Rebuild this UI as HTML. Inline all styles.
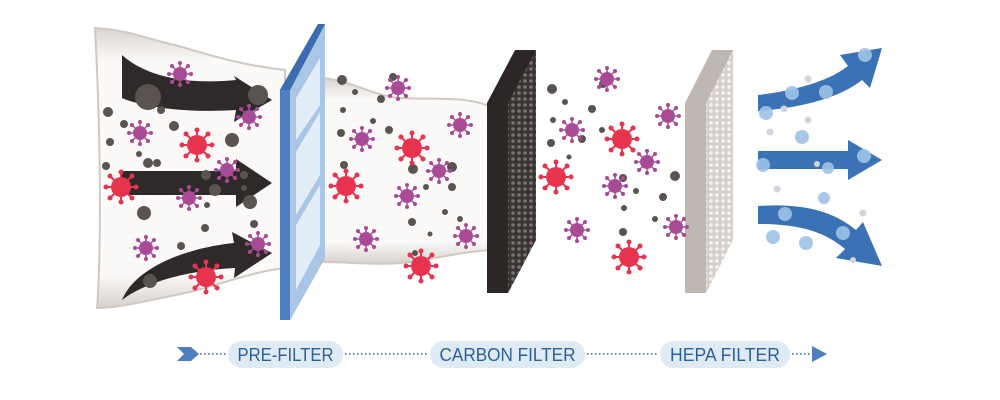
<!DOCTYPE html>
<html><head><meta charset="utf-8"><style>
html,body{margin:0;padding:0;background:#fff;width:1000px;height:400px;overflow:hidden}
svg{display:block}
</style></head><body>
<svg width="1000" height="400" viewBox="0 0 1000 400" xmlns="http://www.w3.org/2000/svg">
<defs>
<g id="vr">
 <circle r="10" fill="#e8334f"/>
 <g stroke="#e8334f" stroke-width="2">
  <line x1="0" y1="-10" x2="0" y2="-15"/><line x1="0" y1="10" x2="0" y2="15"/>
  <line x1="-10" y1="0" x2="-15" y2="0"/><line x1="10" y1="0" x2="15" y2="0"/>
  <line x1="7" y1="7" x2="11" y2="11"/><line x1="-7" y1="-7" x2="-11" y2="-11"/>
  <line x1="7" y1="-7" x2="11" y2="-11"/><line x1="-7" y1="7" x2="-11" y2="11"/>
 </g>
 <g fill="#e8334f"><circle cx="0" cy="-15" r="2.5"/><circle cx="0" cy="15" r="2.5"/><circle cx="-15" cy="0" r="2.5"/><circle cx="15" cy="0" r="2.5"/><circle cx="11" cy="11" r="2.5"/><circle cx="-11" cy="-11" r="2.5"/><circle cx="11" cy="-11" r="2.5"/><circle cx="-11" cy="11" r="2.5"/></g>
</g>
<g id="vp">
 <circle r="7" fill="#a94a97"/>
 <g stroke="#a94a97" stroke-width="1.5">
  <line x1="0" y1="-7" x2="0" y2="-11"/><line x1="0" y1="7" x2="0" y2="11"/>
  <line x1="-7" y1="0" x2="-11" y2="0"/><line x1="7" y1="0" x2="11" y2="0"/>
  <line x1="5" y1="5" x2="8" y2="8"/><line x1="-5" y1="-5" x2="-8" y2="-8"/>
  <line x1="5" y1="-5" x2="8" y2="-8"/><line x1="-5" y1="5" x2="-8" y2="8"/>
 </g>
 <g fill="#a94a97"><circle cx="0" cy="-11" r="2"/><circle cx="0" cy="11" r="2"/><circle cx="-11" cy="0" r="2"/><circle cx="11" cy="0" r="2"/><circle cx="8" cy="8" r="2"/><circle cx="-8" cy="-8" r="2"/><circle cx="8" cy="-8" r="2"/><circle cx="-8" cy="8" r="2"/></g>
</g>
<pattern id="dk" width="6" height="6" patternUnits="userSpaceOnUse"><rect width="6" height="6" fill="#3a3433"/><circle cx="3" cy="3" r="1.8" fill="#7a7474"/></pattern>
<pattern id="lt" width="6" height="6" patternUnits="userSpaceOnUse"><rect width="6" height="6" fill="#d6d0cc"/><circle cx="3" cy="3" r="1.8" fill="#f6f3f1"/></pattern>
<linearGradient id="tube" x1="0" y1="0" x2="0" y2="1"><stop offset="0" stop-color="#d9d4cf"/><stop offset="0.12" stop-color="#fbfaf9"/><stop offset="0.88" stop-color="#fbfaf9"/><stop offset="1" stop-color="#d6d0cb"/></linearGradient>
</defs>

<path d="M95,28 C130,30 150,40 175,45 C210,55 240,65 285,70 L285,268 C250,272 220,285 190,292 C150,300 120,308 97,308 C102,240 100,120 95,28Z" fill="url(#tube)" stroke="#cfc9c4" stroke-width="2"/>
<path d="M322,78 C350,80 370,95 400,98 C440,100 470,95 498,110 L498,250 C470,250 440,258 410,262 C380,266 350,262 322,262Z" fill="url(#tube)" stroke="#cfc9c4" stroke-width="2"/>

<g fill="#2f2a2a">
 <path d="M122,55 C150,80 195,84 236,80 L234,76 L272,100 L234,122 L236,110 C190,113 145,108 122,98Z"/>
 <path d="M122,171 L236,171 L236,159 L272,183 L236,207 L236,195 L122,195Z"/>
 <path d="M122,300 C135,268 185,248 234,243 L232,232 L272,253 L234,278 L235,268 C190,270 145,282 122,300Z"/>
</g>

<polygon points="280,90 318,24 325,24 325,258 290,320 280,320" fill="#4d7fc0"/>
<polygon points="290,90 325,24 325,258 290,320" fill="#a9c6e6"/>
<polygon points="280,90 290,90 325,24 318,24" fill="#3a6cae"/>
<polygon points="296,98 320,58 320,105 296,140" fill="#e3edf7"/>
<polygon points="296,152 320,112 320,175 296,215" fill="#e3edf7"/>
<polygon points="296,225 320,185 320,245 296,290" fill="#e3edf7"/>

<polygon points="487,103 515,50 536,50 536,240 508,293 487,293" fill="#2c2626"/>
<polygon points="508,103 536,50 536,240 508,293" fill="url(#dk)"/>

<polygon points="685,103 712,50 733,50 733,240 706,293 685,293" fill="#bfb7b2"/>
<polygon points="706,103 733,50 733,240 706,293" fill="url(#lt)"/>

<g fill="#3a72b5">
 <path d="M758,95 C800,90 830,80 848,66 L840,55 L882,48 L870,88 L862,80 C840,98 800,108 758,111Z"/>
 <path d="M758,151 L848,151 L848,140 L882,160 L848,180 L848,169 L758,169Z"/>
 <path d="M758,206 C800,203 832,210 856,230 L863,222 L882,266 L836,258 L845,249 C825,232 800,224 758,224Z"/>
</g>
<g fill="#9ec3e6" opacity="0.9">
 <circle cx="865" cy="55" r="7"/><circle cx="792" cy="93" r="7"/><circle cx="826" cy="92" r="7"/><circle cx="766" cy="113" r="7"/><circle cx="802" cy="137" r="7"/><circle cx="763" cy="165" r="7"/><circle cx="828" cy="168" r="6"/><circle cx="864" cy="156" r="7"/><circle cx="824" cy="198" r="6"/><circle cx="785" cy="214" r="7"/><circle cx="773" cy="237" r="7"/><circle cx="806" cy="243" r="7"/><circle cx="843" cy="233" r="7"/>
</g>
<g fill="#d0d6dc"><circle cx="808" cy="79" r="3.5"/><circle cx="784" cy="109" r="3.5"/><circle cx="808" cy="120" r="3.5"/><circle cx="770" cy="132" r="3.5"/><circle cx="817" cy="164" r="3"/><circle cx="777" cy="189" r="3.5"/><circle cx="863" cy="213" r="3.5"/><circle cx="853" cy="260" r="3"/></g>

<g fill="#5a5352">
 <circle cx="148" cy="97" r="13"/><circle cx="258" cy="95" r="10"/><circle cx="108" cy="112" r="5"/><circle cx="161" cy="110" r="4"/><circle cx="124" cy="124" r="4"/><circle cx="174" cy="126" r="5"/><circle cx="232" cy="140" r="7"/><circle cx="110" cy="142" r="4"/><circle cx="139" cy="154" r="3"/><circle cx="148" cy="163" r="5"/><circle cx="157" cy="163" r="4"/><circle cx="106" cy="166" r="4"/><circle cx="206" cy="175" r="5"/><circle cx="215" cy="190" r="6"/><circle cx="250" cy="202" r="7"/><circle cx="244" cy="175" r="4"/><circle cx="244" cy="188" r="3"/><circle cx="207" cy="205" r="3"/><circle cx="144" cy="213" r="7"/><circle cx="254" cy="224" r="4"/><circle cx="205" cy="228" r="4"/><circle cx="181" cy="246" r="4"/><circle cx="150" cy="281" r="7"/>
 <circle cx="342" cy="80" r="5"/><circle cx="393" cy="77" r="4"/><circle cx="355" cy="92" r="3"/><circle cx="381" cy="99" r="4"/><circle cx="343" cy="110" r="3"/><circle cx="373" cy="121" r="3"/><circle cx="389" cy="130" r="4"/><circle cx="341" cy="133" r="4"/><circle cx="344" cy="165" r="4"/><circle cx="413" cy="169" r="5"/><circle cx="426" cy="187" r="3"/><circle cx="452" cy="167" r="5"/><circle cx="452" cy="187" r="4"/><circle cx="445" cy="212" r="3"/><circle cx="412" cy="222" r="4"/><circle cx="430" cy="234" r="2.5"/><circle cx="460" cy="219" r="3"/><circle cx="415" cy="253" r="3"/>
 <circle cx="552" cy="89" r="5"/><circle cx="565" cy="102" r="3"/><circle cx="592" cy="109" r="4"/><circle cx="553" cy="120" r="3"/><circle cx="602" cy="130" r="3"/><circle cx="582" cy="139" r="4"/><circle cx="551" cy="143" r="4"/><circle cx="569" cy="157" r="2.5"/><circle cx="623" cy="178" r="4"/><circle cx="675" cy="176" r="5"/><circle cx="636" cy="191" r="3"/><circle cx="663" cy="197" r="4"/><circle cx="624" cy="208" r="3"/><circle cx="655" cy="219" r="3"/><circle cx="623" cy="232" r="4"/><circle cx="603" cy="84" r="4"/>
</g>

<use href="#vp" x="180" y="74"/><use href="#vp" x="249" y="117"/><use href="#vp" x="140" y="133"/><use href="#vr" x="197" y="145"/><use href="#vp" x="227" y="170"/><use href="#vr" x="121" y="187"/><use href="#vp" x="189" y="198"/><use href="#vp" x="146" y="248"/><use href="#vr" x="206" y="277"/><use href="#vp" x="258" y="244"/>
<use href="#vp" x="398" y="88"/><use href="#vp" x="460" y="125"/><use href="#vp" x="362" y="139"/><use href="#vr" x="412" y="148"/><use href="#vp" x="439" y="171"/><use href="#vr" x="346" y="186"/><use href="#vp" x="407" y="196"/><use href="#vp" x="366" y="239"/><use href="#vp" x="466" y="236"/><use href="#vr" x="421" y="266"/>
<use href="#vp" x="607" y="79"/><use href="#vp" x="572" y="130"/><use href="#vr" x="622" y="139"/><use href="#vp" x="647" y="162"/><use href="#vp" x="668" y="116"/><use href="#vr" x="556" y="177"/><use href="#vp" x="615" y="186"/><use href="#vp" x="577" y="230"/><use href="#vp" x="676" y="227"/><use href="#vr" x="629" y="257"/>

<g stroke="#5b86bf" stroke-width="2" stroke-dasharray="1.5 2.5">
 <line x1="200" y1="354" x2="226" y2="354"/><line x1="345" y1="354" x2="428" y2="354"/><line x1="587" y1="354" x2="658" y2="354"/><line x1="792" y1="354" x2="812" y2="354"/>
</g>
<polygon points="177,347 191,347 199,354 191,361 177,361 184,354" fill="#4f7fbf"/>
<polygon points="812,346 827,354 812,362" fill="#4f7fbf"/>
<g fill="#deeaf4">
 <rect x="228" y="341" width="115" height="27" rx="13.5"/>
 <rect x="430" y="341" width="155" height="27" rx="13.5"/>
 <rect x="660" y="341" width="130" height="27" rx="13.5"/>
</g>
<g font-family="Liberation Sans, sans-serif" font-size="18" fill="#2d5f9a" text-anchor="middle">
 <text x="285.5" y="361" textLength="96" lengthAdjust="spacingAndGlyphs">PRE-FILTER</text>
 <text x="507.5" y="361" textLength="136" lengthAdjust="spacingAndGlyphs">CARBON FILTER</text>
 <text x="725" y="361" textLength="110" lengthAdjust="spacingAndGlyphs">HEPA FILTER</text>
</g>
</svg>
</body></html>
